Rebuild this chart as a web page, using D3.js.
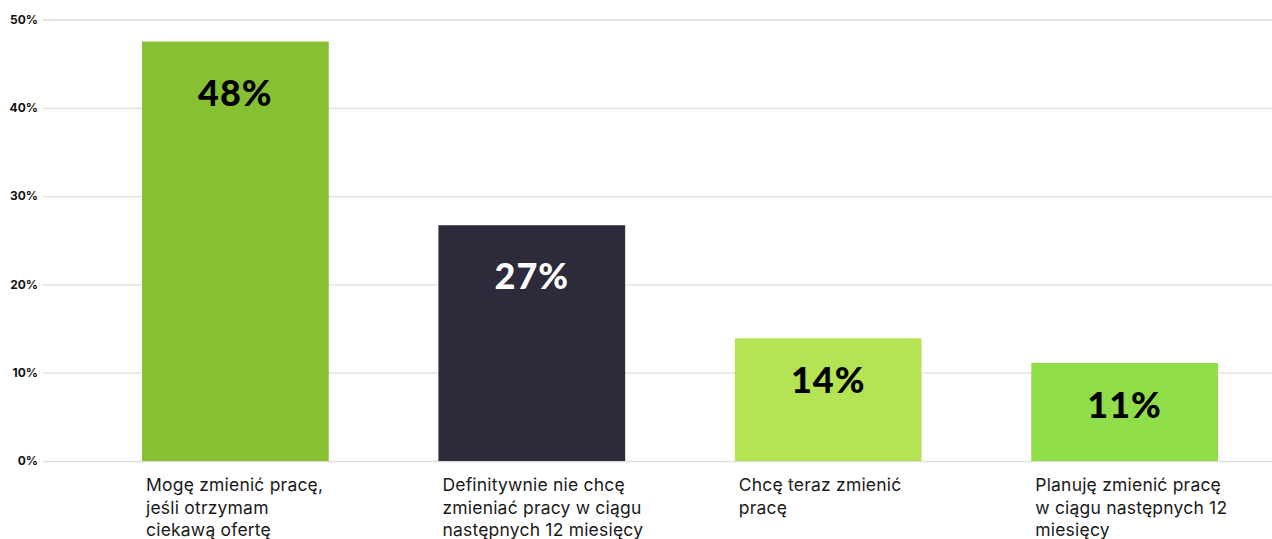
<!DOCTYPE html>
<html lang="pl">
<head>
<meta charset="utf-8">
<script src="https://cdn.jsdelivr.net/npm/d3@7"></script>
<style>
  html, body { margin: 0; padding: 0; background: #ffffff; }
  svg { display: block; }
  .tick-label { font-family: "Inter", "Lato", sans-serif; font-weight: 700; font-size: 12px; fill: #111; }
  .cat-label { font-family: "Inter", "Noto Sans", sans-serif; font-size: 17.5px; letter-spacing: 0.2px; fill: #1a1a1a; }
  .val-label { font-family: "Lato", "Inter", sans-serif; font-weight: 900; font-size: 36px; letter-spacing: 1px; }
</style>
</head>
<body>
<svg id="chart" width="1272" height="539"></svg>
<script>
// Survey answers: attitude towards changing jobs
const categories = [
  "Mogę zmienić pracę,\njeśli otrzymam\nciekawą ofertę",
  "Definitywnie nie chcę\nzmieniać pracy w ciągu\nnastępnych 12 miesięcy",
  "Chcę teraz zmienić\npracę",
  "Planuję zmienić pracę\nw ciągu następnych 12\nmiesięcy"
];
const values = [47.5, 26.7, 13.9, 11.1];
const barColors = ["#87c133", "#2d2a3b", "#b4e353", "#8fde4a"];
const labelColors = ["#000000", "#ffffff", "#000000", "#000000"];
const yTicks = [0, 10, 20, 30, 40, 50];

const width = 1272, height = 539;
const margin = { top: 19.5, right: 54, bottom: 78, left: 142 };
const svg = d3.select("#chart");

const x = d3.scaleBand()
  .domain(categories)
  .range([margin.left, width - margin.right])
  .paddingInner(0.37)
  .paddingOuter(0);

const y = d3.scaleLinear()
  .domain([0, 50])
  .range([height - margin.bottom, margin.top]);

// Horizontal gridlines with percentage ticks
const yAxis = d3.axisLeft(y)
  .tickValues(yTicks)
  .tickFormat(d => d + "%")
  .tickSize(-(width - 43))
  .tickPadding(5);

const gy = svg.append("g")
  .attr("transform", "translate(43,0)")
  .call(yAxis);
gy.select(".domain").remove();
gy.selectAll(".tick line").attr("stroke", "#dedede").attr("stroke-width", 1.3);
gy.selectAll(".tick text").attr("class", "tick-label").attr("x", -5);

// Bars
svg.append("g").selectAll("rect")
  .data(values)
  .join("rect")
  .attr("x", (d, i) => x(categories[i]))
  .attr("y", d => y(d))
  .attr("width", x.bandwidth())
  .attr("height", d => y(0) - y(d))
  .attr("fill", (d, i) => barColors[i]);

// Value labels inside the bars
svg.append("g").selectAll("text")
  .data(values)
  .join("text")
  .attr("class", "val-label")
  .attr("x", (d, i) => x(categories[i]) + x.bandwidth() / 2)
  .attr("y", d => {
    const h = y(0) - y(d);
    return y(d) + (h > 200 ? 50 : 41);
  })
  .attr("text-anchor", "middle")
  .attr("dominant-baseline", "central")
  .attr("fill", (d, i) => labelColors[i])
  .text(d => Math.round(d) + "%");

// Category labels below the axis
const cats = svg.append("g").selectAll("text")
  .data(categories)
  .join("text")
  .attr("class", "cat-label")
  .attr("x", d => x(d) + 4)
  .attr("y", 491);
cats.each(function(d) {
  const t = d3.select(this);
  d.split("\n").forEach((line, k) => {
    t.append("tspan")
      .attr("x", x(d) + 4)
      .attr("dy", k === 0 ? 0 : 22.5)
      .text(line);
  });
});
</script>
</body>
</html>
